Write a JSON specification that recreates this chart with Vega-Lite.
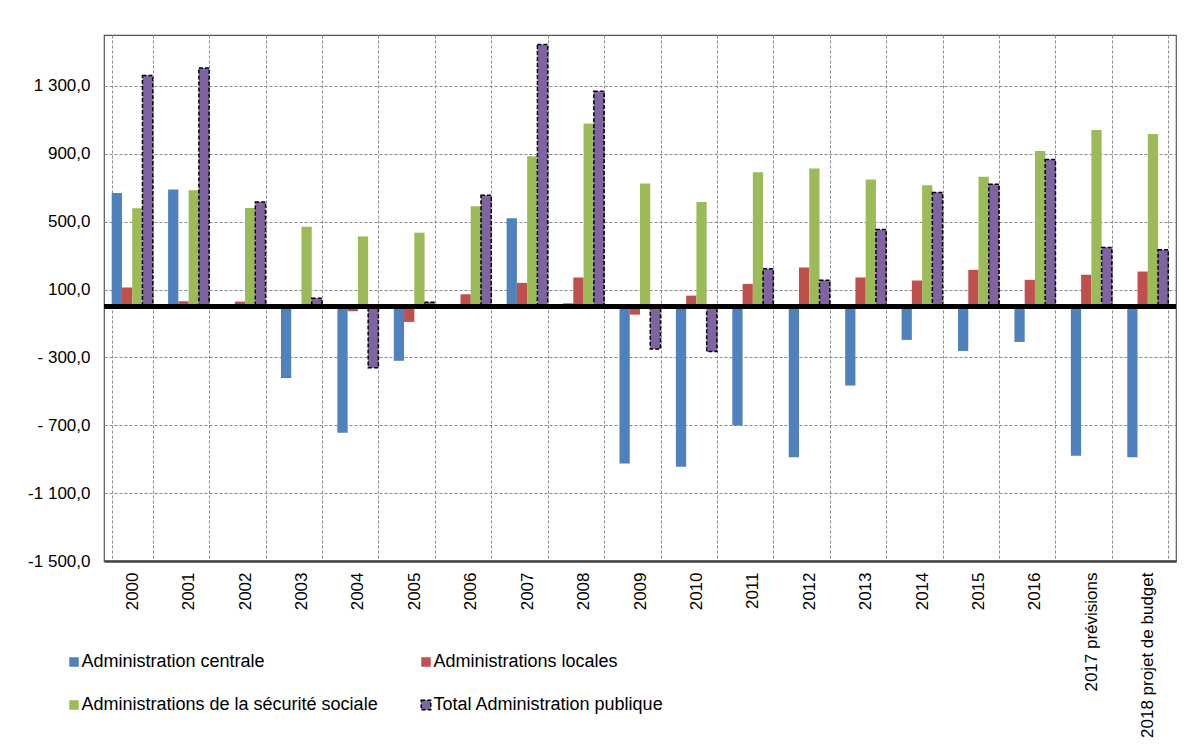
{
  "$schema": "https://vega.github.io/schema/vega-lite/v6.json",
  "width": 1072,
  "height": 526,
  "autosize": {"type": "none"},
  "padding": {"left": 104, "top": 35, "right": 24, "bottom": 184},
  "background": "white",
  "config": {
    "font": "Liberation Sans",
    "view": {"stroke": "#555555", "strokeWidth": 1.2},
    "axis": {"labelFont": "Liberation Sans", "labelColor": "black", "labelFontSize": 17, "gridColor": "#8c8c8c", "gridDash": [3, 2], "gridWidth": 1, "ticks": false, "title": null}
  },
  "data": {
    "values": [
      {"annee": "2000", "serie": "Administration centrale", "valeur": 669},
      {"annee": "2000", "serie": "Administrations locales", "valeur": 112},
      {"annee": "2000", "serie": "Administrations de la sécurité sociale", "valeur": 579},
      {"annee": "2000", "serie": "Total Administration publique", "valeur": 1361},
      {"annee": "2001", "serie": "Administration centrale", "valeur": 689},
      {"annee": "2001", "serie": "Administrations locales", "valeur": 31},
      {"annee": "2001", "serie": "Administrations de la sécurité sociale", "valeur": 685},
      {"annee": "2001", "serie": "Total Administration publique", "valeur": 1406},
      {"annee": "2002", "serie": "Administration centrale", "valeur": 7},
      {"annee": "2002", "serie": "Administrations locales", "valeur": 29},
      {"annee": "2002", "serie": "Administrations de la sécurité sociale", "valeur": 580},
      {"annee": "2002", "serie": "Total Administration publique", "valeur": 616},
      {"annee": "2003", "serie": "Administration centrale", "valeur": -422},
      {"annee": "2003", "serie": "Administrations locales", "valeur": 0},
      {"annee": "2003", "serie": "Administrations de la sécurité sociale", "valeur": 470},
      {"annee": "2003", "serie": "Total Administration publique", "valeur": 48},
      {"annee": "2004", "serie": "Administration centrale", "valeur": -744},
      {"annee": "2004", "serie": "Administrations locales", "valeur": -28},
      {"annee": "2004", "serie": "Administrations de la sécurité sociale", "valeur": 413},
      {"annee": "2004", "serie": "Total Administration publique", "valeur": -361},
      {"annee": "2005", "serie": "Administration centrale", "valeur": -320},
      {"annee": "2005", "serie": "Administrations locales", "valeur": -91},
      {"annee": "2005", "serie": "Administrations de la sécurité sociale", "valeur": 435},
      {"annee": "2005", "serie": "Total Administration publique", "valeur": 25},
      {"annee": "2006", "serie": "Administration centrale", "valeur": -6},
      {"annee": "2006", "serie": "Administrations locales", "valeur": 72},
      {"annee": "2006", "serie": "Administrations de la sécurité sociale", "valeur": 590},
      {"annee": "2006", "serie": "Total Administration publique", "valeur": 656},
      {"annee": "2007", "serie": "Administration centrale", "valeur": 520},
      {"annee": "2007", "serie": "Administrations locales", "valeur": 139},
      {"annee": "2007", "serie": "Administrations de la sécurité sociale", "valeur": 886},
      {"annee": "2007", "serie": "Total Administration publique", "valeur": 1544},
      {"annee": "2008", "serie": "Administration centrale", "valeur": 19},
      {"annee": "2008", "serie": "Administrations locales", "valeur": 171},
      {"annee": "2008", "serie": "Administrations de la sécurité sociale", "valeur": 1079},
      {"annee": "2008", "serie": "Total Administration publique", "valeur": 1268},
      {"annee": "2009", "serie": "Administration centrale", "valeur": -925},
      {"annee": "2009", "serie": "Administrations locales", "valeur": -48},
      {"annee": "2009", "serie": "Administrations de la sécurité sociale", "valeur": 725},
      {"annee": "2009", "serie": "Total Administration publique", "valeur": -250},
      {"annee": "2010", "serie": "Administration centrale", "valeur": -945},
      {"annee": "2010", "serie": "Administrations locales", "valeur": 64},
      {"annee": "2010", "serie": "Administrations de la sécurité sociale", "valeur": 616},
      {"annee": "2010", "serie": "Total Administration publique", "valeur": -266},
      {"annee": "2011", "serie": "Administration centrale", "valeur": -702},
      {"annee": "2011", "serie": "Administrations locales", "valeur": 133},
      {"annee": "2011", "serie": "Administrations de la sécurité sociale", "valeur": 791},
      {"annee": "2011", "serie": "Total Administration publique", "valeur": 222},
      {"annee": "2012", "serie": "Administration centrale", "valeur": -889},
      {"annee": "2012", "serie": "Administrations locales", "valeur": 230},
      {"annee": "2012", "serie": "Administrations de la sécurité sociale", "valeur": 813},
      {"annee": "2012", "serie": "Total Administration publique", "valeur": 154},
      {"annee": "2013", "serie": "Administration centrale", "valeur": -466},
      {"annee": "2013", "serie": "Administrations locales", "valeur": 171},
      {"annee": "2013", "serie": "Administrations de la sécurité sociale", "valeur": 748},
      {"annee": "2013", "serie": "Total Administration publique", "valeur": 454},
      {"annee": "2014", "serie": "Administration centrale", "valeur": -197},
      {"annee": "2014", "serie": "Administrations locales", "valeur": 153},
      {"annee": "2014", "serie": "Administrations de la sécurité sociale", "valeur": 715},
      {"annee": "2014", "serie": "Total Administration publique", "valeur": 672},
      {"annee": "2015", "serie": "Administration centrale", "valeur": -262},
      {"annee": "2015", "serie": "Administrations locales", "valeur": 216},
      {"annee": "2015", "serie": "Administrations de la sécurité sociale", "valeur": 764},
      {"annee": "2015", "serie": "Total Administration publique", "valeur": 720},
      {"annee": "2016", "serie": "Administration centrale", "valeur": -209},
      {"annee": "2016", "serie": "Administrations locales", "valeur": 157},
      {"annee": "2016", "serie": "Administrations de la sécurité sociale", "valeur": 917},
      {"annee": "2016", "serie": "Total Administration publique", "valeur": 866},
      {"annee": "2017 prévisions", "serie": "Administration centrale", "valeur": -880},
      {"annee": "2017 prévisions", "serie": "Administrations locales", "valeur": 187},
      {"annee": "2017 prévisions", "serie": "Administrations de la sécurité sociale", "valeur": 1040},
      {"annee": "2017 prévisions", "serie": "Total Administration publique", "valeur": 348},
      {"annee": "2018 projet de budget", "serie": "Administration centrale", "valeur": -889},
      {"annee": "2018 projet de budget", "serie": "Administrations locales", "valeur": 206},
      {"annee": "2018 projet de budget", "serie": "Administrations de la sécurité sociale", "valeur": 1016},
      {"annee": "2018 projet de budget", "serie": "Total Administration publique", "valeur": 334}
    ]
  },
  "layer": [
    {
      "mark": {"type": "bar", "strokeWidth": 1.5},
      "encoding": {
        "x": {
          "field": "annee", "type": "nominal", "sort": null,
          "scale": {"paddingInner": 0.273, "paddingOuter": 0.1365},
          "axis": {"labelAngle": -90, "labelPadding": 11, "tickBand": "extent", "domainColor": "#404040", "domainWidth": 2.5, "grid": true, "labelLimit": 300}
        },
        "xOffset": {
          "field": "serie", "type": "nominal",
          "scale": {"domain": ["Administration centrale", "Administrations locales", "Administrations de la sécurité sociale", "Total Administration publique"], "paddingInner": 0, "paddingOuter": 0}
        },
        "y": {
          "field": "valeur", "type": "quantitative",
          "scale": {"domain": [-1500, 1600], "nice": false, "zero": false},
          "axis": {
            "values": [-1500, -1100, -700, -300, 100, 500, 900, 1300],
            "labelPadding": 14, "domain": false, "grid": true,
            "labelExpr": "datum.value >= 0 ? replace(replace(format(datum.value, ',.1f'), ',', ' '), '.', ',') : (datum.value > -1000 ? '- ' : '-') + replace(replace(format(-datum.value, ',.1f'), ',', ' '), '.', ',')"
          }
        },
        "color": {
          "field": "serie", "type": "nominal",
          "scale": {"domain": ["Administration centrale", "Administrations locales", "Administrations de la sécurité sociale", "Total Administration publique"], "range": ["#4F81BD", "#C0504D", "#9BBB59", "#8064A2"]},
          "legend": {"title": null, "orient": "none", "legendX": -39, "legendY": 618, "columns": 2, "direction": "horizontal", "symbolType": "square", "symbolSize": 90, "labelFontSize": 18, "labelFont": "Liberation Sans", "labelColor": "black", "labelOffset": -1.5, "rowPadding": 25, "columnPadding": 39, "padding": 0, "labelLimit": 400}
        },
        "stroke": {
          "field": "serie", "type": "nominal",
          "scale": {"domain": ["Administration centrale", "Administrations locales", "Administrations de la sécurité sociale", "Total Administration publique"], "range": ["transparent", "transparent", "transparent", "black"]}
        },
        "strokeDash": {
          "field": "serie", "type": "nominal",
          "scale": {"domain": ["Administration centrale", "Administrations locales", "Administrations de la sécurité sociale", "Total Administration publique"], "range": [[1, 0], [1, 0], [1, 0], [4, 2]]}
        }
      }
    },
    {
      "mark": {"type": "rule", "color": "black", "strokeWidth": 3.5},
      "encoding": {"y": {"datum": 0}}
    }
  ]
}
